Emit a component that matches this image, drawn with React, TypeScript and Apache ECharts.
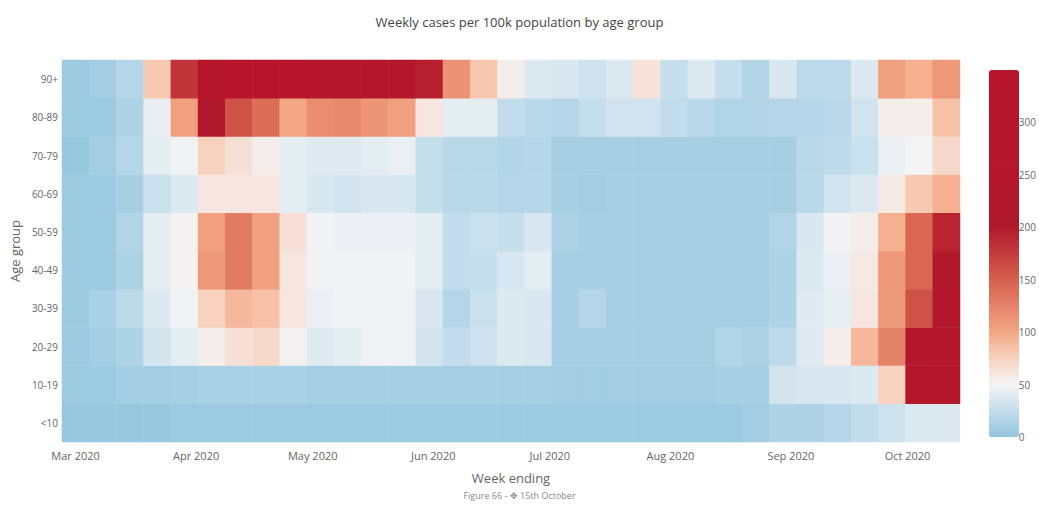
import React, { useEffect, useRef } from "react";
import * as echarts from "echarts";

const TITLE = "Weekly cases per 100k population by age group";
const FOOTER = "Figure 66 - \u2725 15th October";

const weekEnding = [
  "2020-03-01", "2020-03-08", "2020-03-15", "2020-03-22", "2020-03-29",
  "2020-04-05", "2020-04-12", "2020-04-19", "2020-04-26",
  "2020-05-03", "2020-05-10", "2020-05-17", "2020-05-24", "2020-05-31",
  "2020-06-07", "2020-06-14", "2020-06-21", "2020-06-28",
  "2020-07-05", "2020-07-12", "2020-07-19", "2020-07-26",
  "2020-08-02", "2020-08-09", "2020-08-16", "2020-08-23", "2020-08-30",
  "2020-09-06", "2020-09-13", "2020-09-20", "2020-09-27",
  "2020-10-04", "2020-10-11",
];

const ageGroups = ["<10", "10-19", "20-29", "30-39", "40-49", "50-59", "60-69", "70-79", "80-89", "90+"];

const monthTicks = ["2020-03-01", "2020-04-01", "2020-05-01", "2020-06-01", "2020-07-01", "2020-08-01", "2020-09-01", "2020-10-01"];
const monthNames = ["Jan", "Feb", "Mar", "Apr", "May", "Jun", "Jul", "Aug", "Sep", "Oct", "Nov", "Dec"];

const colorbarTicks = [0, 50, 100, 150, 200, 250, 300];
const colorMax = 350;
// stops every 25 units from 0 to 350
const colorStops = [
  "#92c5de", "#c3ddec", "#f4f4f5", "#f8d2bf", "#f4a784", "#e5826a", "#d6604d", "#c43c3c",
  "#b2182b", "#b3172b", "#b4172c", "#b5162c", "#b6162c", "#b7152c", "#b8152c",
];

const v0to9 = [3, 3, 3, 3, 5, 5, 5, 5, 5, 5, 5, 5, 5, 5, 5, 5, 5, 5, 5, 5, 5, 5, 5, 5, 5, 8, 15, 15, 18, 25, 30, 38, 38];
const v10to19 = [5, 5, 8, 8, 10, 12, 12, 12, 12, 10, 10, 10, 10, 10, 10, 10, 10, 10, 8, 8, 8, 8, 8, 8, 10, 10, 33, 36, 36, 38, 75, 240, 260];
const v20to29 = [5, 8, 15, 33, 42, 55, 65, 70, 52, 40, 42, 48, 48, 33, 25, 30, 38, 36, 10, 10, 10, 10, 10, 10, 16, 14, 22, 40, 55, 90, 125, 250, 280];
const v30to39 = [5, 12, 22, 38, 48, 75, 90, 85, 60, 45, 48, 48, 48, 35, 18, 28, 38, 36, 10, 18, 10, 10, 10, 10, 10, 10, 15, 40, 43, 60, 110, 160, 250];
const v40to49 = [5, 5, 14, 42, 52, 110, 130, 105, 60, 48, 48, 48, 48, 42, 25, 26, 35, 42, 10, 10, 10, 10, 10, 10, 10, 10, 14, 38, 46, 58, 110, 145, 220];
const v50to59 = [5, 5, 16, 42, 52, 105, 130, 105, 65, 48, 46, 46, 46, 42, 25, 28, 26, 35, 14, 10, 10, 10, 10, 10, 10, 10, 16, 36, 48, 55, 95, 145, 190];
const v60to69 = [5, 5, 10, 28, 38, 60, 60, 60, 42, 36, 32, 36, 36, 26, 20, 20, 18, 18, 10, 8, 10, 10, 10, 10, 10, 10, 10, 20, 32, 38, 58, 80, 95];
const v70to79 = [3, 8, 18, 42, 48, 75, 65, 55, 42, 40, 40, 42, 45, 26, 20, 20, 16, 18, 10, 10, 10, 10, 10, 10, 10, 10, 10, 20, 22, 28, 45, 50, 70];
const v80to89 = [5, 5, 14, 44, 105, 210, 160, 140, 100, 118, 120, 112, 105, 60, 42, 42, 24, 20, 18, 26, 32, 32, 24, 20, 16, 16, 18, 18, 20, 32, 55, 55, 85];
const v90plus = [5, 8, 18, 80, 180, 290, 320, 330, 320, 300, 290, 280, 260, 195, 115, 82, 55, 38, 36, 30, 38, 62, 26, 38, 26, 16, 36, 22, 22, 38, 105, 95, 110];

const rows = [v0to9, v10to19, v20to29, v30to39, v40to49, v50to59, v60to69, v70to79, v80to89, v90plus];

const DAY = 86400000;
const toUTC = (s: string) => {
  const [y, m, d] = s.split("-").map(Number);
  return Date.UTC(y, m - 1, d);
};

export default function App() {
  const ref = useRef<HTMLDivElement>(null);
  useEffect(() => {
    if (!ref.current) return;
    const chart = echarts.init(ref.current, null, { renderer: "svg" });
    const data: [number, number, number][] = [];
    rows.forEach((r, yi) => r.forEach((v, xi) => data.push([xi, yi, v])));
    const font = "'Open Sans', 'Noto Sans', sans-serif";
    const txt = "#666";
    const tMin = toUTC(weekEnding[0]) - 3.5 * DAY;
    const tMax = toUTC(weekEnding[weekEnding.length - 1]) + 3.5 * DAY;

    chart.setOption({
      animation: false,
      backgroundColor: "#fff",
      textStyle: { fontFamily: font },
      title: {
        text: TITLE,
        left: "center",
        top: 10,
        textStyle: { fontSize: 13, fontWeight: "normal", color: "#444", fontFamily: font },
      },
      graphic: [
        {
          type: "text",
          left: "center",
          top: 491,
          style: { text: FOOTER, fontSize: 9, fill: "#888", fontFamily: font },
        },
      ],
      grid: [
        { left: 62, right: 79, top: 60, bottom: 65 },
        { left: 989, width: 30, top: 70, height: 367 },
      ],
      xAxis: [
        { type: "category", gridIndex: 0, data: weekEnding, show: false },
        {
          type: "value",
          gridIndex: 0,
          position: "bottom",
          min: tMin,
          max: tMax,
          scale: true,
          name: "Week ending",
          nameLocation: "middle",
          nameGap: 29,
          nameTextStyle: { fontSize: 13, color: txt, fontFamily: font },
          axisLine: { show: false },
          axisTick: { show: false },
          splitLine: { show: false },
          axisLabel: {
            customValues: monthTicks.map(toUTC),
            fontSize: 11,
            color: txt,
            margin: 8,
            hideOverlap: false,
            formatter: (val: number) => {
              const d = new Date(val);
              return monthNames[d.getUTCMonth()] + " " + d.getUTCFullYear();
            },
          },
        },
        { type: "value", gridIndex: 1, show: false },
      ],
      yAxis: [
        {
          type: "category",
          gridIndex: 0,
          data: ageGroups,
          name: "Age group",
          nameLocation: "middle",
          nameGap: 40,
          nameTextStyle: { fontSize: 13, color: txt, fontFamily: font },
          axisLine: { show: false },
          axisTick: { show: false },
          splitLine: { show: false },
          axisLabel: { fontSize: 10, color: txt, margin: 4 },
        },
        {
          type: "value",
          gridIndex: 1,
          position: "right",
          min: 0,
          max: colorMax,
          interval: 50,
          axisLine: { show: false },
          axisTick: { show: false },
          splitLine: { show: false },
          axisLabel: {
            fontSize: 10,
            color: txt,
            margin: 8,
            showMaxLabel: false,
            formatter: (v: number) => (colorbarTicks.includes(v) ? String(v) : ""),
          },
        },
      ],
      visualMap: {
        type: "continuous",
        seriesIndex: 0,
        min: 0,
        max: colorMax,
        calculable: false,
        left: 989,
        top: 70,
        itemWidth: 30,
        itemHeight: 367,
        padding: 0,
        hoverLink: false,
        inRange: { color: colorStops },
      },
      series: [
        {
          type: "heatmap",
          xAxisIndex: 0,
          yAxisIndex: 0,
          data,
          itemStyle: { borderWidth: 0 },
          emphasis: { disabled: true },
        },
      ],
    });
    return () => chart.dispose();
  }, []);
  return <div ref={ref} style={{ position: "fixed", left: 0, top: 0, width: 1039, height: 507 }} />;
}
